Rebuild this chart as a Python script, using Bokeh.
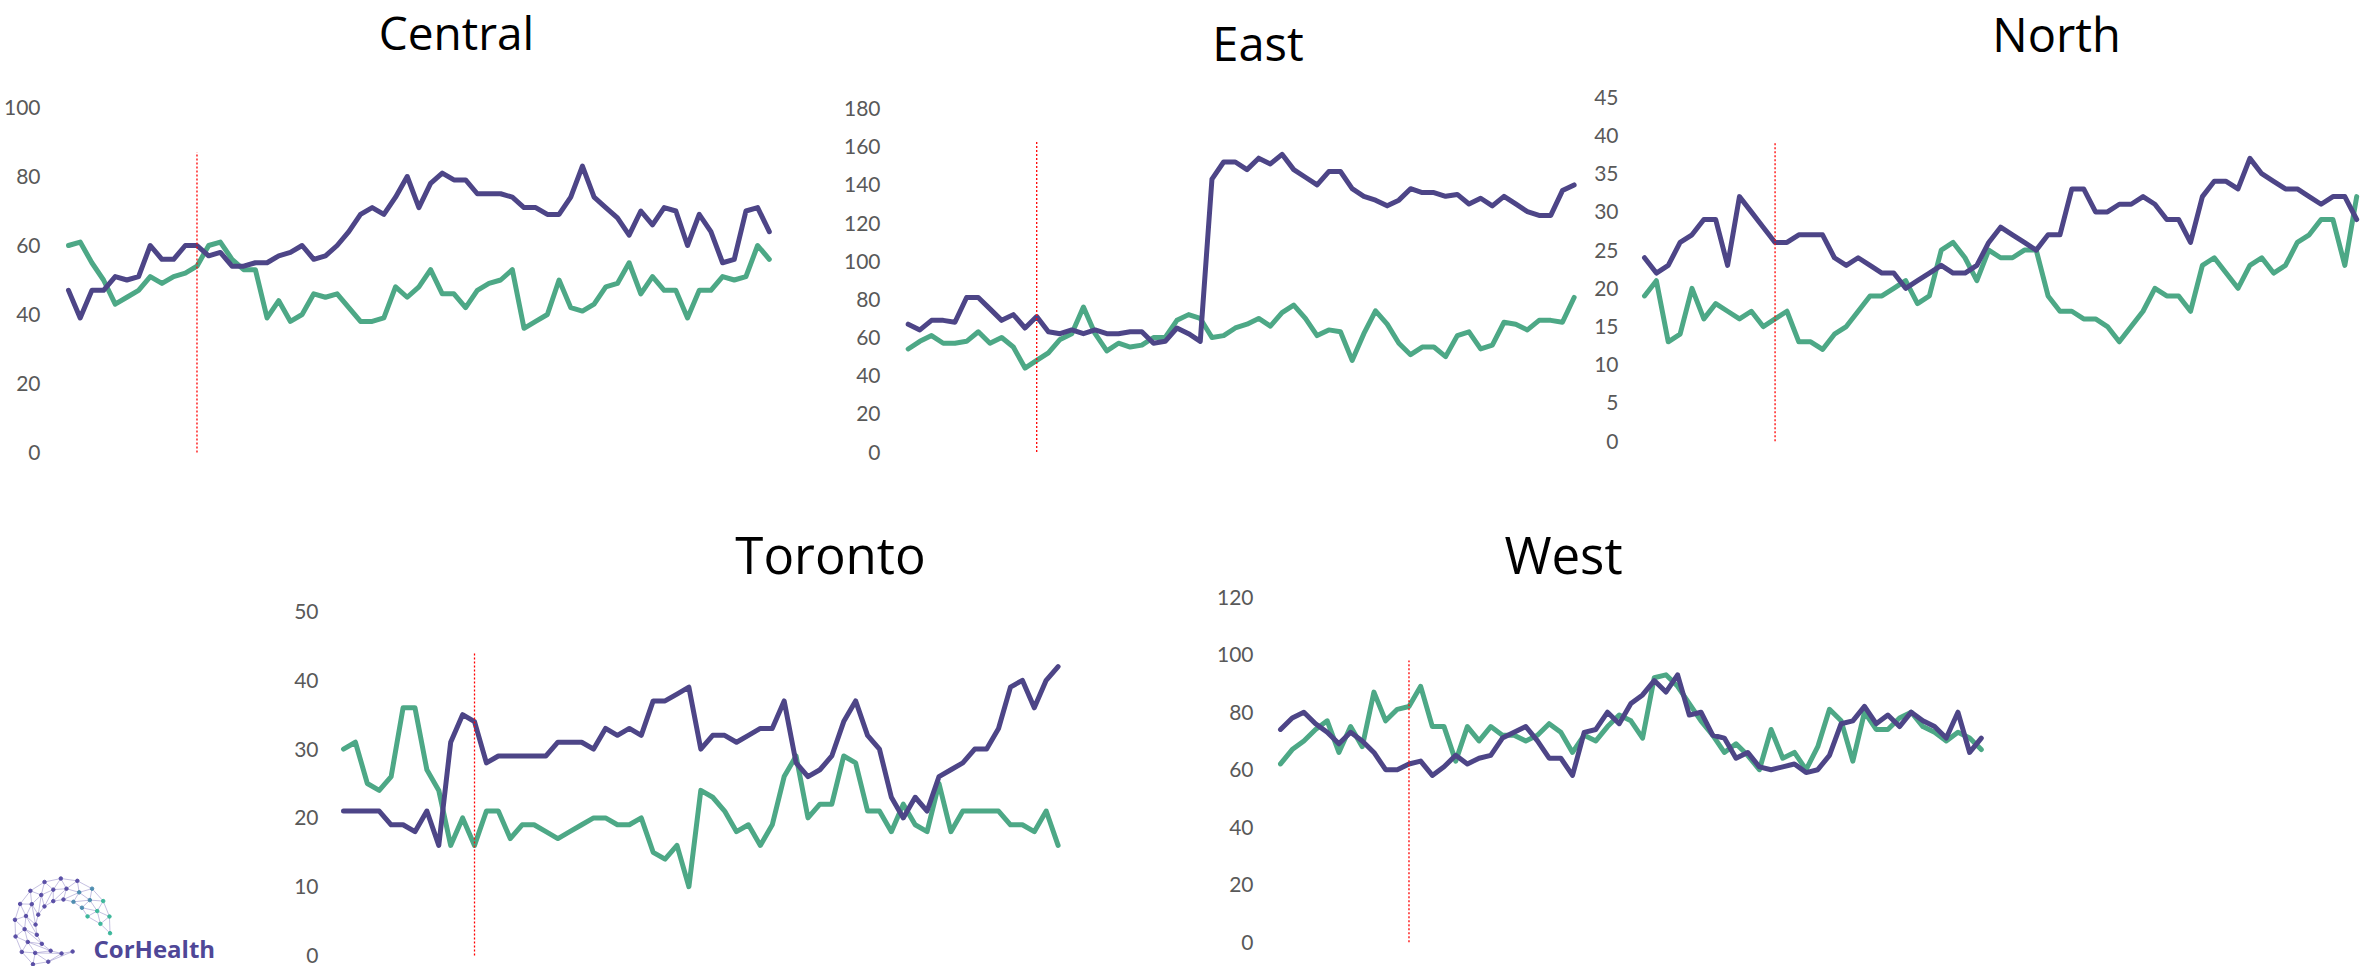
import numpy as np
from bokeh.plotting import figure
from bokeh.models import Range1d, FixedTicker
from bokeh.layouts import row, column
from bokeh.core.properties import value
from bokeh.embed import file_html
from bokeh.resources import INLINE

# ---------------- data (weekly values) ----------------
central_purple = [47, 39, 47, 47, 51, 50, 51, 60, 56, 56, 60, 60, 57, 58, 54, 54, 55, 55, 57, 58,
                  60, 56, 57, 60, 64, 69, 71, 69, 74, 80, 71, 78, 81, 79, 79, 75, 75, 75, 74, 71,
                  71, 69, 69, 74, 83, 74, 71, 68, 63, 70, 66, 71, 70, 60, 69, 64, 55, 56, 70, 71, 64]
central_green = [60, 61, 55, 50, 43, 45, 47, 51, 49, 51, 52, 54, 60, 61, 56, 53, 53, 39, 44, 38,
                 40, 46, 45, 46, 42, 38, 38, 39, 48, 45, 48, 53, 46, 46, 42, 47, 49, 50, 53, 36,
                 38, 40, 50, 42, 41, 43, 48, 49, 55, 46, 51, 47, 47, 39, 47, 47, 51, 50, 51, 60, 56]

east_purple = [67, 64, 69, 69, 68, 81, 81, 75, 69, 72, 65, 71, 63, 62, 64, 62, 64, 62, 62, 63,
               63, 57, 58, 65, 62, 58, 143, 152, 152, 148, 154, 151, 156, 148, 144, 140, 147, 147,
               138, 134, 132, 129, 132, 138, 136, 136, 134, 135, 130, 133, 129, 134, 130, 126, 124,
               124, 137, 140]
east_green = [54, 58, 61, 57, 57, 58, 63, 57, 60, 55, 44, 48, 52, 59, 62, 76, 62, 53, 57, 55,
              56, 60, 60, 69, 72, 70, 60, 61, 65, 67, 70, 66, 73, 77, 70, 61, 64, 63, 48, 62,
              74, 67, 57, 51, 55, 55, 50, 61, 63, 54, 56, 68, 67, 64, 69, 69, 68, 81]

north_purple = [24, 22, 23, 26, 27, 29, 29, 23, 32, 30, 28, 26, 26, 27, 27, 27, 24, 23, 24, 23,
                22, 22, 20, 21, 22, 23, 22, 22, 23, 26, 28, 27, 26, 25, 27, 27, 33, 33, 30, 30,
                31, 31, 32, 31, 29, 29, 26, 32, 34, 34, 33, 37, 35, 34, 33, 33, 32, 31, 32, 32, 29]
north_green = [19, 21, 13, 14, 20, 16, 18, 17, 16, 17, 15, 16, 17, 13, 13, 12, 14, 15, 17, 19,
               19, 20, 21, 18, 19, 25, 26, 24, 21, 25, 24, 24, 25, 25, 19, 17, 17, 16, 16, 15,
               13, 15, 17, 20, 19, 19, 17, 23, 24, 22, 20, 23, 24, 22, 23, 26, 27, 29, 29, 23, 32]

toronto_purple = [21, 21, 21, 21, 19, 19, 18, 21, 16, 31, 35, 34, 28, 29, 29, 29, 29, 29, 31, 31,
                  31, 30, 33, 32, 33, 32, 37, 37, 38, 39, 30, 32, 32, 31, 32, 33, 33, 37, 28, 26,
                  27, 29, 34, 37, 32, 30, 23, 20, 23, 21, 26, 27, 28, 30, 30, 33, 39, 40, 36, 40, 42]
toronto_green = [30, 31, 25, 24, 26, 36, 36, 27, 24, 16, 20, 16, 21, 21, 17, 19, 19, 18, 17, 18,
                 19, 20, 20, 19, 19, 20, 15, 14, 16, 10, 24, 23, 21, 18, 19, 16, 19, 26, 29, 20,
                 22, 22, 29, 28, 21, 21, 18, 22, 19, 18, 25, 18, 21, 21, 21, 21, 19, 19, 18, 21, 16]

west_purple = [74, 78, 80, 76, 73, 69, 73, 70, 66, 60, 60, 62, 63, 58, 61, 65, 62, 64, 65, 71,
               73, 75, 70, 64, 64, 58, 73, 74, 80, 76, 83, 86, 91, 87, 93, 79, 80, 72, 71, 64,
               66, 61, 60, 61, 62, 59, 60, 65, 76, 77, 82, 76, 79, 75, 80, 77, 75, 71, 80, 66, 71]
west_green = [62, 67, 70, 74, 77, 66, 75, 68, 87, 77, 81, 82, 89, 75, 75, 63, 75, 70, 75, 72,
              72, 70, 72, 76, 73, 66, 72, 70, 75, 79, 77, 71, 92, 93, 89, 83, 77, 72, 66, 69,
              65, 60, 74, 64, 66, 60, 68, 81, 77, 63, 80, 74, 74, 78, 80, 75, 73, 70, 73, 71, 67]

region_names = ["Central", "East", "North", "Toronto", "West"]
axis_ticks = {
    "Central": [0, 20, 40, 60, 80, 100],
    "East": [0, 20, 40, 60, 80, 100, 120, 140, 160, 180],
    "North": [0, 5, 10, 15, 20, 25, 30, 35, 40, 45],
    "Toronto": [0, 10, 20, 30, 40, 50],
    "West": [0, 20, 40, 60, 80, 100, 120],
}
marker_week = {"Central": 11, "East": 11, "North": 11, "Toronto": 11, "West": 11}
marker_top = {"Central": 87, "East": 163, "North": 39, "Toronto": 44, "West": 98}

PURPLE = "#4D4587"
GREEN = "#4DA886"
TICK_GREY = "#595959"
TEXT_SHIFT = 0.4   # em: Bokeh draws the text this much lower than the anchor asked for

# ---------------- layout geometry (pixels in the page picture) ----------------
geom = {
    "Central": dict(left=0, right=840, top=0, bottom=500, label_right=40, frame_left=62,
                    first=68, dx=11.68, zero=452, ppu=3.45, tx=456, ty=50, tsize=46, lsize=21),
    "East": dict(left=840, right=1588, top=0, bottom=500, label_right=879, frame_left=900,
                 first=906.7, dx=11.7, zero=451.5, ppu=1.908, tx=1257, ty=61, tsize=47, lsize=21),
    "North": dict(left=1588, right=2361, top=0, bottom=500, label_right=1618, frame_left=1638,
                  first=1644, dx=11.87, zero=440.7, ppu=7.644, tx=2056, ty=52, tsize=47, lsize=21),
    "Toronto": dict(left=270, right=1212, top=500, bottom=966, label_right=318, frame_left=336,
                    first=343, dx=11.91, zero=955, ppu=6.88, tx=830, ty=574, tsize=51, lsize=21),
    "West": dict(left=1212, right=2000, top=500, bottom=966, label_right=1253, frame_left=1272,
                 first=1280, dx=11.68, zero=941.7, ppu=2.875, tx=1563, ty=574, tsize=51, lsize=21),
}

series = {
    "Central": (central_purple, central_green),
    "East": (east_purple, east_green),
    "North": (north_purple, north_green),
    "Toronto": (toronto_purple, toronto_green),
    "West": (west_purple, west_green),
}


def make_panel(name):
    g = geom[name]
    purple, green = series[name]
    W = int(g["right"] - g["left"])
    H = int(g["bottom"] - g["top"])
    x0 = (g["frame_left"] - g["first"]) / g["dx"]
    x1 = (g["right"] - g["first"]) / g["dx"]
    y_hi = (g["zero"] - g["top"]) / g["ppu"]
    y_lo = (g["zero"] - g["bottom"]) / g["ppu"]
    p = figure(width=W, height=H, x_range=Range1d(x0, x1), y_range=Range1d(y_lo, y_hi),
               x_axis_type=None, output_backend="svg", toolbar_location=None,
               min_border_left=int(g["frame_left"] - g["left"]), min_border_right=0,
               min_border_top=0, min_border_bottom=0)
    p.title.visible = False
    p.outline_line_color = None
    p.background_fill_color = "white"
    p.border_fill_color = "white"
    p.grid.grid_line_color = None
    ax = p.yaxis[0]
    ax.ticker = FixedTicker(ticks=axis_ticks[name])
    ax.axis_line_color = None
    ax.major_tick_line_color = None
    ax.minor_tick_line_color = None
    ax.major_tick_out = 0
    ax.major_tick_in = 0
    ax.major_label_standoff = int(g["frame_left"] - g["label_right"])
    ax.major_label_text_font = "Lato"
    ax.major_label_text_font_size = f"{g['lsize']}px"
    ax.major_label_text_color = TICK_GREY

    p.line(list(range(len(green))), green, line_color=GREEN, line_width=5,
           line_join="round", line_cap="round")
    p.line(list(range(len(purple))), purple, line_color=PURPLE, line_width=5,
           line_join="round", line_cap="round")
    wk = marker_week[name]
    p.segment(x0=[wk], y0=[0], x1=[wk], y1=[marker_top[name]], line_color="#FF0000",
              line_width=1.3, line_dash="2 2")
    # title placed in the chart's own coordinates
    tx = (g["tx"] - g["first"]) / g["dx"]
    ty = (g["zero"] - (g["ty"] - TEXT_SHIFT * g["tsize"])) / g["ppu"]
    p.text(x=[tx], y=[ty], text=[name], text_font=value("Open Sans"),
           text_font_size=value(f"{g['tsize']}px"), text_color="black",
           text_align="center", text_baseline="alphabetic")
    return p


panels = {n: make_panel(n) for n in region_names}

# ---------------- CorHealth logo ----------------
logo = figure(width=270, height=466, x_range=Range1d(0, 270), y_range=Range1d(966, 500),
              x_axis_type=None, y_axis_type=None, output_backend="svg", toolbar_location=None,
              min_border=0)
logo.title.visible = False
logo.outline_line_color = None
logo.grid.grid_line_color = None

cx, cy = 62, 926
rings = [
    (48, np.radians([-8, 12, 32, 52, 72, 92, 112, 132, 152, 172, 192, 212, 232])),
    (38, np.radians([4, 24, 44, 64, 84, 104, 124, 144, 164, 184, 204, 224, 248])),
    (27, np.radians([22, 44, 66, 88, 110, 132, 154, 176, 198, 220, 244, 268, 292])),
]
pts = []
for r, angs in rings:
    xs = cx + r * np.cos(angs)
    ys = cy - r * np.sin(angs)
    pts.append((xs, ys, angs))
seg_x0, seg_y0, seg_x1, seg_y1 = [], [], [], []
for k, (xs, ys, _) in enumerate(pts):
    for i in range(len(xs) - 1):
        seg_x0.append(xs[i]); seg_y0.append(ys[i]); seg_x1.append(xs[i + 1]); seg_y1.append(ys[i + 1])
    if k + 1 < len(pts):
        nx, ny, _ = pts[k + 1]
        for i in range(len(xs)):
            seg_x0.append(xs[i]); seg_y0.append(ys[i]); seg_x1.append(nx[i]); seg_y1.append(ny[i])
            if i + 1 < len(xs):
                seg_x0.append(xs[i + 1]); seg_y0.append(ys[i + 1]); seg_x1.append(nx[i]); seg_y1.append(ny[i])
logo.segment(seg_x0, seg_y0, seg_x1, seg_y1, line_color="#7468B8", line_width=0.7, line_alpha=0.6)


def node_colour(a):
    d = np.degrees(a)
    return "#3DB89B" if d < 35 else ("#4E8DB0" if d < 70 else "#5A4FA6")


for xs, ys, angs in pts:
    logo.scatter(list(xs), list(ys), size=3.5, color=[node_colour(a) for a in angs])

logo.text(x=[93], y=[958 - TEXT_SHIFT * 24], text=["CorHealth"], text_font=value("Open Sans"),
          text_font_size=value("24px"), text_font_style="bold", text_color="#4F4797",
          text_align="left", text_baseline="alphabetic")

layout = column(
    row(panels["Central"], panels["East"], panels["North"]),
    row(logo, panels["Toronto"], panels["West"]),
)

open("out.html", "w").write(file_html(layout, INLINE))
